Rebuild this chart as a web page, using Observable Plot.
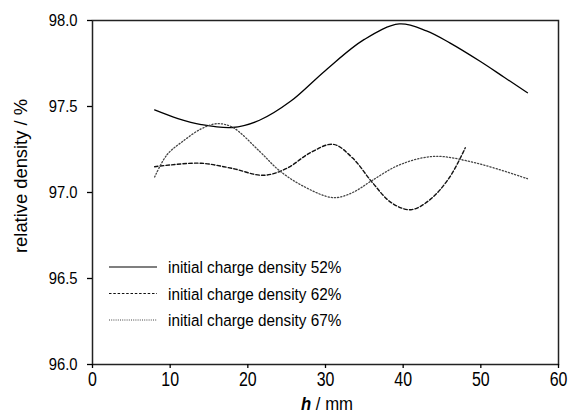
<!DOCTYPE html>
<html>
<head>
<meta charset="utf-8">
<script src="https://cdn.jsdelivr.net/npm/d3@7"></script>
<script src="https://cdn.jsdelivr.net/npm/@observablehq/plot@0.6"></script>
<style>
  html, body { margin: 0; padding: 0; background: #fff; }
  #chart svg { display: block; font-family: "Liberation Sans", Arial, sans-serif; }
</style>
</head>
<body>
<div id="chart"></div>
<script>
// ---- data ----
const seriesNames = ["initial charge density 52%", "initial charge density 62%", "initial charge density 67%"];
const h52 = [8, 11, 14, 18, 21.5, 25.5, 30, 35, 39.5, 43, 46, 50, 53, 56];
const d52 = [97.48, 97.43, 97.395, 97.378, 97.42, 97.53, 97.71, 97.89, 97.98, 97.94, 97.87, 97.76, 97.67, 97.58];
const h62 = [8, 10, 14, 18, 22, 25, 28, 31, 33.5, 36, 38.5, 41, 43.5, 46, 48];
const d62 = [97.15, 97.16, 97.17, 97.14, 97.10, 97.14, 97.23, 97.28, 97.20, 97.06, 96.94, 96.90, 96.96, 97.09, 97.26];
const h67 = [8, 9.6, 11.7, 14, 16, 18, 21.5, 24, 27, 31, 33.5, 36, 39.5, 44, 49.5, 56];
const d67 = [97.09, 97.22, 97.30, 97.37, 97.40, 97.38, 97.24, 97.13, 97.04, 96.97, 97.00, 97.07, 97.16, 97.21, 97.17, 97.08];
const xTicks = [0, 10, 20, 30, 40, 50, 60];
const yTicks = [96.0, 96.5, 97.0, 97.5, 98.0];
const xLabel = "h";
const xUnit = " / mm";
const yLabel = "relative density / %";

const toRows = (hs, ds, name) => hs.map((h, i) => ({h, d: ds[i], name}));
const rows52 = toRows(h52, d52, seriesNames[0]);
const rows62 = toRows(h62, d62, seriesNames[1]);
const rows67 = toRows(h67, d67, seriesNames[2]);

const styles = [
  {stroke: "#000", strokeWidth: 1.3, dash: null, legendDash: null},
  {stroke: "#111", strokeWidth: 1.4, dash: "3.5,2.2", legendDash: "2.5,1.8"},
  {stroke: "#444", strokeWidth: 1.3, dash: "1.2,2", legendDash: "1,1.2"}
];

const W = 574, H = 414;
const mL = 92, mR = 16, mT = 20, mB = 50;

const plot = Plot.plot({
  width: W, height: H,
  marginLeft: mL, marginRight: mR, marginTop: mT, marginBottom: mB,
  x: {domain: [0, 60], ticks: xTicks},
  y: {domain: [96, 98], ticks: yTicks},
  style: {background: "#fff", color: "#000"},
  marks: [
    Plot.frame({stroke: "#222", strokeWidth: 1.5}),
    Plot.axisX({ticks: xTicks, tickSize: 4, tickPadding: 3, label: null, fontSize: 21, tickFormat: d3.format("d")}),
    Plot.axisY({ticks: yTicks, tickSize: 5, tickPadding: 10, label: null, fontSize: 17, tickFormat: d3.format(".1f")}),
    Plot.line(rows52, {x: "h", y: "d", curve: "catmull-rom", stroke: styles[0].stroke, strokeWidth: styles[0].strokeWidth}),
    Plot.line(rows62, {x: "h", y: "d", curve: "catmull-rom", stroke: styles[1].stroke, strokeWidth: styles[1].strokeWidth, strokeDasharray: styles[1].dash}),
    Plot.line(rows67, {x: "h", y: "d", curve: "catmull-rom", stroke: styles[2].stroke, strokeWidth: styles[2].strokeWidth, strokeDasharray: styles[2].dash})
  ]
});

const svg = d3.select(plot);
svg.selectAll("[aria-label='x-axis tick'] path, [aria-label='y-axis tick'] path").attr("stroke-width", 1.3);

// condense tick labels horizontally like the reference typeface
function squish(sel, sx) {
  sel.each(function () {
    const t = this.getAttribute("transform") || "";
    this.setAttribute("transform", t + ` scale(${sx},1)`);
  });
}
squish(svg.selectAll("[aria-label='x-axis tick label'] text"), 0.76);
squish(svg.selectAll("[aria-label='y-axis tick label'] text"), 0.87);

// axis titles
const xt = svg.append("text")
  .attr("transform", `translate(${(mL + W - mR) / 2 + 2}, 410) scale(0.88,1)`)
  .attr("text-anchor", "middle").attr("font-size", 19).attr("fill", "#000");
xt.append("tspan").attr("font-style", "italic").attr("font-weight", "bold").text(xLabel);
xt.append("tspan").text(xUnit);

svg.append("text")
  .attr("transform", `translate(27, 176) rotate(-90) scale(1.02,1)`)
  .attr("text-anchor", "middle").attr("font-size", 18).attr("fill", "#000")
  .text(yLabel);

// legend
const lg = svg.append("g");
seriesNames.forEach((name, i) => {
  const y = 267 + i * 26.5;
  const st = styles[i];
  lg.append("line").attr("x1", 109).attr("x2", 157).attr("y1", y).attr("y2", y)
    .attr("stroke", st.stroke).attr("stroke-width", i === 0 ? 1.2 : 1)
    .attr("stroke-dasharray", st.legendDash);
  lg.append("text")
    .attr("transform", `translate(168, ${y + 6}) scale(0.9,1)`)
    .attr("text-anchor", "start").attr("font-size", 17).attr("fill", "#000").text(name);
});

document.getElementById("chart").appendChild(plot);
</script>
</body>
</html>
